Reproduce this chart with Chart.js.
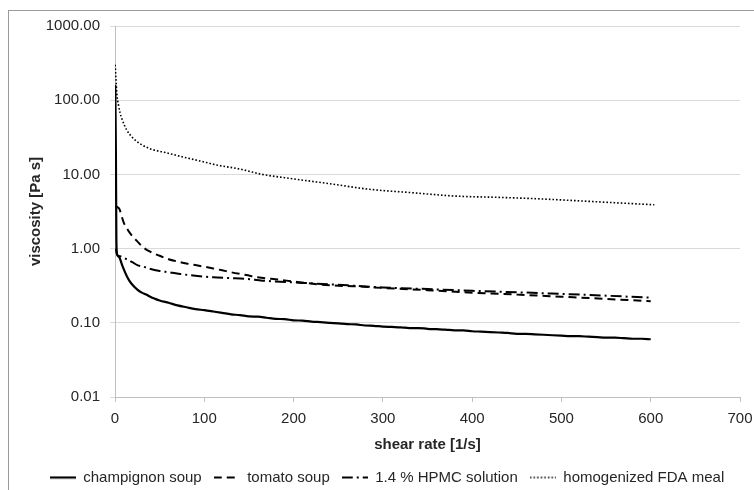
<!DOCTYPE html>
<html lang="en">
<head>
  <meta charset="UTF-8" />
  <title>Viscosity vs shear rate</title>
  <script src="https://cdn.jsdelivr.net/npm/chart.js"></script>
  <style>
    html, body { margin: 0; padding: 0; background: #fff; overflow: hidden; }
    #frame {
      position: absolute; left: 8px; top: 10px; width: 800px; height: 600px;
      border-left: 1px solid #9a9a9a; border-top: 1px solid #9a9a9a;
    }
    #wrap { position: absolute; left: 0; top: 0; width: 754px; height: 490px; }
  </style>
</head>
<body>
  <div id="frame"></div>
  <div id="wrap"><canvas id="chart" width="754" height="490"></canvas></div>

  <script>
    // values (shear rate in 1/s, viscosity in Pa s)
    const champignonX = [0.3, 1, 1.5, 2, 3, 5, 8, 10, 13, 16, 20, 25, 30, 35, 40, 45, 50, 60, 70, 80, 90, 100,
      110, 120, 130, 140, 150, 160, 170, 180, 190, 200, 210, 220, 230, 240, 250, 260, 270, 280, 290, 300,
      310, 320, 330, 340, 350, 360, 370, 380, 390, 400, 410, 420, 430, 440, 450, 460, 470, 480, 490, 500,
      510, 520, 530, 540, 550, 560, 570, 580, 590, 600];
    const champignonY = [160, 20, 1.5, 0.9, 0.8, 0.76, 0.6, 0.52, 0.43, 0.37, 0.32, 0.28, 0.255, 0.24, 0.222, 0.21, 0.2, 0.186, 0.172, 0.162, 0.153, 0.148,
      0.142, 0.136, 0.13, 0.127, 0.122, 0.121, 0.117, 0.113, 0.112, 0.108, 0.107, 0.104, 0.102, 0.1, 0.098, 0.096, 0.095, 0.092, 0.091, 0.089,
      0.088, 0.087, 0.085, 0.085, 0.083, 0.082, 0.081, 0.079, 0.079, 0.077, 0.076, 0.075, 0.074, 0.073, 0.071, 0.071, 0.07, 0.069, 0.068, 0.067,
      0.066, 0.066, 0.065, 0.064, 0.063, 0.063, 0.062, 0.061, 0.061, 0.06];

    const tomatoX = [1, 3, 5, 8, 10, 13, 17, 20, 25, 30, 35, 40, 50, 60, 70, 80, 90, 100, 110, 120, 130, 147, 160, 185,
      200, 241, 270, 300, 350, 400, 450, 500, 550, 600];
    const tomatoY = [3.7, 3.6, 3.4, 2.6, 2.2, 1.9, 1.6, 1.45, 1.25, 1.08, 0.97, 0.9, 0.8, 0.72, 0.67, 0.63, 0.6, 0.57, 0.54, 0.51, 0.48, 0.44, 0.41, 0.38,
      0.36, 0.32, 0.31, 0.295, 0.275, 0.255, 0.24, 0.225, 0.21, 0.195];

    const hpmcX = [1, 2, 4, 7, 11, 15, 20, 25, 32, 40, 50, 60, 73, 90, 110, 130, 147, 165, 185, 210, 241, 270, 300,
      350, 400, 450, 500, 550, 600];
    const hpmcY = [1.0, 0.85, 0.8, 0.78, 0.74, 0.7, 0.65, 0.6, 0.57, 0.53, 0.5, 0.48, 0.455, 0.43, 0.41, 0.4, 0.39, 0.37, 0.358, 0.345, 0.33, 0.315, 0.3,
      0.285, 0.27, 0.258, 0.245, 0.232, 0.218];

    const fdaX = [0.2, 1, 2, 4, 5.6, 8, 13, 20, 28, 40, 58, 75, 95, 115, 140, 165, 200, 240, 285, 330, 382, 430, 472,
      520, 560, 604];
    const fdaY = [300, 200, 124, 85, 68, 55, 40, 31, 26, 22, 19.5, 17.3, 15.2, 13.3, 11.8, 10, 8.7, 7.5, 6.3, 5.7, 5.1, 4.9, 4.7,
      4.4, 4.15, 3.9];

    const seriesNames = ['champignon soup', 'tomato soup', '1.4 % HPMC solution', 'homogenized FDA meal'];
    const yTicks = [0.01, 0.1, 1, 10, 100, 1000];
    const xTicks = [0, 100, 200, 300, 400, 500, 600, 700];

    const pts = (xs, ys) => xs.map((x, i) => ({ x, y: ys[i] }));
    const FONT = "'Liberation Sans', Arial, sans-serif";

    Chart.defaults.font.family = FONT;
    Chart.defaults.font.size = 15;
    Chart.defaults.color = '#262626';

    function line(label, data, width, dash) {
      return {
        label, data,
        borderColor: '#000', backgroundColor: '#000',
        borderWidth: width, borderDash: dash,
        pointRadius: 0, fill: false,
        cubicInterpolationMode: 'monotone'
      };
    }

    // legend swatch: a short line with the dataset's own dash pattern
    const SWATCH_W = 26;
    function swatch(ds) {
      const c = document.createElement('canvas');
      c.width = SWATCH_W; c.height = 4;
      const g = c.getContext('2d');
      g.strokeStyle = ds.borderColor;
      g.lineWidth = ds.borderWidth;
      g.setLineDash(ds.borderDash);
      g.beginPath();
      g.moveTo(0, 2); g.lineTo(SWATCH_W, 2);
      g.stroke();
      return c;
    }

    new Chart(document.getElementById('chart'), {
      type: 'line',
      data: {
        datasets: [
          line(seriesNames[0], pts(champignonX, champignonY), 2.2, []),
          line(seriesNames[1], pts(tomatoX, tomatoY), 2, [8, 5]),
          line(seriesNames[2], pts(hpmcX, hpmcY), 2, [11, 4, 2, 4]),
          line(seriesNames[3], pts(fdaX, fdaY), 1.6, [1.6, 2])
        ]
      },
      options: {
        responsive: false,
        animation: false,
        devicePixelRatio: 1,
        layout: { padding: { left: 20, right: 0, top: 26, bottom: -5 } },
        plugins: {
          tooltip: { enabled: false },
          legend: {
            position: 'bottom',
            labels: {
              usePointStyle: true,
              pointStyleWidth: SWATCH_W,
              padding: 12,
              color: '#262626',
              font: { size: 15 },
              generateLabels: chart => chart.data.datasets.map((ds, i) => ({
                text: ds.label,
                pointStyle: swatch(ds),
                fillStyle: '#000', strokeStyle: '#000', lineWidth: 0,
                hidden: false, datasetIndex: i, fontColor: '#262626'
              }))
            }
          }
        },
        scales: {
          x: {
            type: 'linear',
            min: 0, max: 700,
            afterBuildTicks: axis => { axis.ticks = xTicks.map(v => ({ value: v })); },
            afterFit: axis => { axis.height = 61; axis.paddingRight = 14; },
            ticks: { padding: 8 },
            grid: { drawOnChartArea: false, tickLength: 5, color: '#bfbfbf' },
            border: { color: '#bfbfbf' },
            title: { display: true, text: 'shear rate [1/s]', font: { size: 15, weight: 'bold' }, padding: { top: 6, bottom: 4 } }
          },
          y: {
            type: 'logarithmic',
            min: 0.01, max: 1000,
            afterBuildTicks: axis => { axis.ticks = yTicks.map(v => ({ value: v })); },
            afterFit: axis => { axis.width = 95; },
            ticks: { padding: 10, callback: v => Number(v).toFixed(2) },
            grid: { color: '#d9d9d9', tickLength: 5 },
            border: { color: '#bfbfbf' },
            title: { display: true, text: 'viscosity [Pa s]', font: { size: 15, weight: 'bold' }, padding: { top: 7 } }
          }
        }
      }
    });
  </script>
</body>
</html>
